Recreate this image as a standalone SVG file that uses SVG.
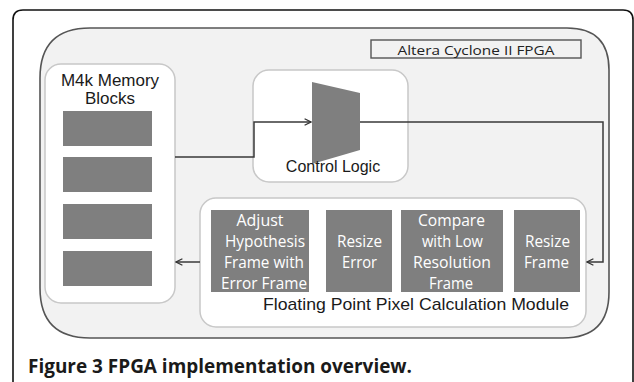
<svg xmlns="http://www.w3.org/2000/svg" width="634" height="382" viewBox="0 0 634 382">
  <defs>
    <marker id="arrow" viewBox="0 0 10 10" refX="9" refY="5" markerWidth="8" markerHeight="8" markerUnits="userSpaceOnUse" orient="auto">
      <path d="M1,1 L9,5 L1,9" fill="none" stroke="#333" stroke-width="1.6"/>
    </marker>
    <filter id="soft" x="-5%" y="-5%" width="110%" height="110%">
      <feGaussianBlur stdDeviation="0.6"/>
    </filter>
  </defs>
  <style>
    .panel { fill: #ffffff; stroke: #c8c8c8; stroke-width: 1.5; }
    .block { fill: #7f7f7f; }
    .label { font-family: "Liberation Sans", Arial, sans-serif; fill: #1a1a1a; text-anchor: middle; }
    .btxt { font-family: "Open Sans", "Liberation Sans", sans-serif; font-size: 15.5px; fill: #ffffff; text-anchor: middle; }
    .wire { fill: none; stroke: #3a3a3a; stroke-width: 1.5; }
  </style>

  <rect width="634" height="382" fill="#ffffff"/>

  <!-- figure frame -->
  <path d="M13,382 L13,20 Q13,10 23,10 L623,10 Q633,10 633,20 L633,382" fill="none" stroke="#111" stroke-width="1.6"/>

  <!-- FPGA device boundary -->
  <g id="fpga">
    <path d="M90,28 L567,28 Q609,28 609,70 L609,292 Q609,338 563,338 L90,338 Q40,338 40,288 L40,78 Q40,28 90,28 Z" fill="#f2f2f2" stroke="#555" stroke-width="1.6"/>
    <rect x="371" y="40" width="210" height="18" fill="#f2f2f2" stroke="#555" stroke-width="1.4"/>
    <text x="476" y="54.5" font-family="'Open Sans', 'Liberation Sans', sans-serif" font-size="13.5" fill="#222" text-anchor="middle" textLength="157" lengthAdjust="spacingAndGlyphs">Altera Cyclone II FPGA</text>
  </g>

  <!-- on-chip memory -->
  <g id="memory">
    <rect class="panel" x="45" y="64" width="130" height="239" rx="16"/>
    <text class="label" x="110" y="86" font-size="17">M4k Memory</text>
    <text class="label" x="110" y="104" font-size="17">Blocks</text>
    <rect class="block" x="63" y="111" width="89" height="35"/>
    <rect class="block" x="63" y="157" width="89" height="35"/>
    <rect class="block" x="63" y="204" width="89" height="35"/>
    <rect class="block" x="63" y="251" width="89" height="35"/>
  </g>

  <!-- control logic with multiplexer -->
  <g id="control">
    <rect class="panel" x="253" y="70" width="155" height="112" rx="16"/>
    <polygon points="312,82 360,93 360,150 312,164" fill="#7f7f7f" filter="url(#soft)"/>
    <text class="label" x="333" y="172" font-size="16">Control Logic</text>
  </g>

  <!-- pixel calculation pipeline -->
  <g id="calc">
    <rect class="panel" x="200" y="198" width="386" height="129" rx="16"/>
    <rect class="block" x="211" y="210" width="98" height="82"/>
    <rect class="block" x="326" y="210" width="66" height="82"/>
    <rect class="block" x="401" y="210" width="102" height="82"/>
    <rect class="block" x="514" y="210" width="66" height="82"/>

    <text class="btxt" x="260" y="226" textLength="47" lengthAdjust="spacingAndGlyphs">Adjust</text>
    <text class="btxt" x="265" y="247" textLength="80" lengthAdjust="spacingAndGlyphs">Hypothesis</text>
    <text class="btxt" x="264" y="268" textLength="80" lengthAdjust="spacingAndGlyphs">Frame with</text>
    <text class="btxt" x="264" y="289" textLength="86" lengthAdjust="spacingAndGlyphs">Error Frame</text>

    <text class="btxt" x="359.5" y="247" textLength="45" lengthAdjust="spacingAndGlyphs">Resize</text>
    <text class="btxt" x="359.5" y="268" textLength="35" lengthAdjust="spacingAndGlyphs">Error</text>

    <text class="btxt" x="451.5" y="226" textLength="67" lengthAdjust="spacingAndGlyphs">Compare</text>
    <text class="btxt" x="452.5" y="247" textLength="61" lengthAdjust="spacingAndGlyphs">with Low</text>
    <text class="btxt" x="452" y="268" textLength="78" lengthAdjust="spacingAndGlyphs">Resolution</text>
    <text class="btxt" x="451" y="289" textLength="44" lengthAdjust="spacingAndGlyphs">Frame</text>

    <text class="btxt" x="547.5" y="247" textLength="45" lengthAdjust="spacingAndGlyphs">Resize</text>
    <text class="btxt" x="546.5" y="268" textLength="45" lengthAdjust="spacingAndGlyphs">Frame</text>

    <text class="label" x="416" y="310" font-size="17" textLength="306" lengthAdjust="spacingAndGlyphs">Floating Point Pixel Calculation Module</text>
  </g>

  <!-- data paths -->
  <g id="connectors">
    <path class="wire" d="M175,157 L254,157 L254,122 L311,122" marker-end="url(#arrow)"/>
    <path class="wire" d="M360,122 L603,122 L603,262 L587,262" marker-end="url(#arrow)"/>
    <path class="wire" d="M200,262 L176,262" marker-end="url(#arrow)"/>
  </g>

  <text x="28" y="373" font-family="'Open Sans', 'Liberation Sans', sans-serif" font-size="19.5" font-weight="bold" fill="#1a1a1a" textLength="384" lengthAdjust="spacingAndGlyphs">Figure 3 FPGA implementation overview.</text>
</svg>
